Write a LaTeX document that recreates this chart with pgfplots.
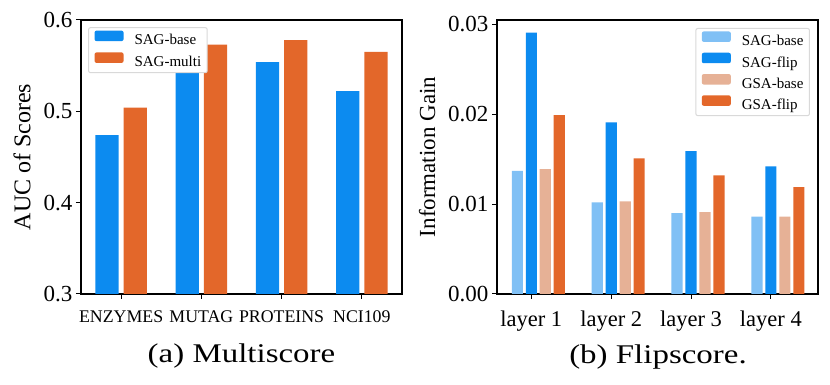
\documentclass[border=0pt]{standalone}
\usepackage{fontspec}
\setmainfont{Liberation Serif}
\usepackage{pgfplots}
\pgfplotsset{compat=1.18}

\definecolor{sagblue}{RGB}{12,139,240}
\definecolor{sagorange}{RGB}{227,103,42}
\definecolor{lightblue}{RGB}{128,192,245}
\definecolor{lightorange}{RGB}{230,177,150}

\pgfplotsset{
  panel/.style={
    scale only axis, width=321pt, height=274pt,
    axis line style={line width=1.1pt},
    tick pos=left, tick align=outside,
    major tick length=5pt,
    every tick/.style={black, line width=1pt},
    /pgf/number format/assume math mode=true,
    scaled y ticks=false,
    yticklabel style={font=\fontsize{23}{23}\selectfont},
    ylabel style={font=\fontsize{24}{24}\selectfont, anchor=center},
    xtick={0,1,2,3},
    legend cell align=left,
    legend image code/.code={
      \fill[#1] (0pt,-0.2pt) rectangle (29pt,10.3pt);
      \path (40pt,0pt);},
    legend style={font=\fontsize{15}{17}\selectfont, draw=gray!30,
      rounded corners=2pt, fill=white, line width=1pt,
      row sep=4.5pt, inner xsep=6pt, inner ysep=3pt,
      nodes={inner sep=0pt, text height=11pt, text depth=3pt}},
  },
}

\begin{document}
\begin{tikzpicture}
\useasboundingbox (0,0) rectangle (830pt,385pt);

% (a) Multiscore
\begin{axis}[panel,
    at={(81pt,91pt)}, anchor=south west,
    xmin=-0.5, xmax=3.5,
    ymin=0.3, ymax=0.6,
    ytick={0.3,0.4,0.5,0.6},
    yticklabel style={/pgf/number format/.cd, fixed, fixed zerofill, precision=1},
    xticklabels={ENZYMES,MUTAG,PROTEINS,NCI109},
    xticklabel style={font=\fontsize{17.8}{17.8}\selectfont, anchor=base, yshift=-24pt},
    ylabel={AUC of Scores},
    ylabel style={at={(axis description cs:-0.184,0.5)}},
    legend style={at={(0.022,0.974)}, anchor=north west},
]
\addplot[ybar, bar width=0.29, bar shift=-0.175, fill=sagblue, draw=none]
    coordinates {(0,0.474)(1,0.548)(2,0.554)(3,0.522)};
\addlegendentry{SAG-base}
\addplot[ybar, bar width=0.29, bar shift=0.175, fill=sagorange, draw=none]
    coordinates {(0,0.504)(1,0.573)(2,0.578)(3,0.565)};
\addlegendentry{SAG-multi}
\end{axis}

% (b) Flipscore
\begin{axis}[panel,
    at={(497pt,91pt)}, anchor=south west,
    xmin=-0.43, xmax=3.59,
    ymin=0, ymax=0.0305,
    ytick={0,0.01,0.02,0.03},
    yticklabel style={/pgf/number format/.cd, fixed, fixed zerofill, precision=2},
    xticklabels={layer 1,layer 2,layer 3,layer 4},
    xticklabel style={font=\fontsize{22.5}{22.5}\selectfont, anchor=base, yshift=-27.7pt},
    ylabel={Information Gain},
    ylabel style={at={(axis description cs:-0.218,0.5)}, font=\fontsize{23}{23}\selectfont},
    legend style={at={(0.975,0.971)}, anchor=north east, row sep=4pt},
]
\addplot[ybar, bar width=0.14, bar shift=-0.175, fill=lightblue, draw=none]
    coordinates {(0,0.0137)(1,0.0102)(2,0.0090)(3,0.0086)};
\addlegendentry{SAG-base}
\addplot[ybar, bar width=0.14, bar shift=0, fill=sagblue, draw=none]
    coordinates {(0,0.0291)(1,0.0191)(2,0.0159)(3,0.0142)};
\addlegendentry{SAG-flip}
\addplot[ybar, bar width=0.14, bar shift=0.175, fill=lightorange, draw=none]
    coordinates {(0,0.0139)(1,0.0103)(2,0.0091)(3,0.0086)};
\addlegendentry{GSA-base}
\addplot[ybar, bar width=0.14, bar shift=0.35, fill=sagorange, draw=none]
    coordinates {(0,0.0199)(1,0.0151)(2,0.0132)(3,0.0119)};
\addlegendentry{GSA-flip}
\end{axis}

\node[anchor=base, font=\fontsize{27}{27}\selectfont] at (241.5pt,22pt) {\scalebox{1.22}[1]{(a) Multiscore}};
\node[anchor=base, font=\fontsize{27}{27}\selectfont] at (658pt,21pt) {\scalebox{1.22}[1]{(b) Flipscore.}};
\end{tikzpicture}
\end{document}
